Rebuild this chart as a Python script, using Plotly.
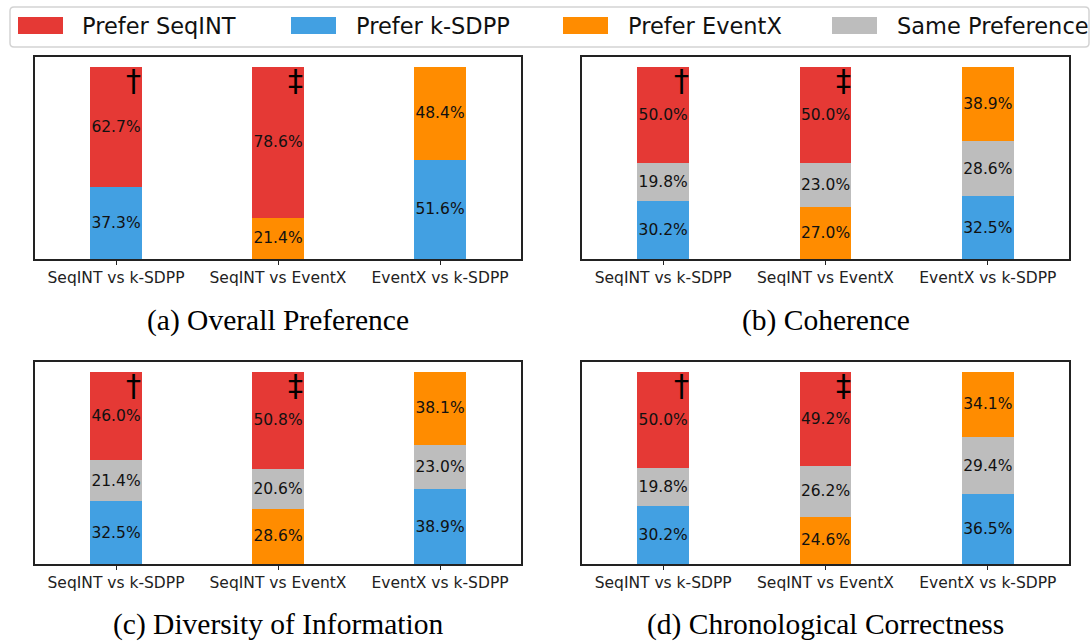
import plotly.graph_objects as go

# ---------------- data ----------------
categories = ["SeqINT vs k-SDPP", "SeqINT vs EventX", "EventX vs k-SDPP"]
first_system = ["SeqINT", "SeqINT", "EventX"]      # top segment of each bar
second_system = ["k-SDPP", "EventX", "k-SDPP"]     # bottom segment of each bar
significance_marks = ["\u2020", "\u2021", ""]

panel_titles = ["(a) Overall Preference", "(b) Coherence",
                "(c) Diversity of Information", "(d) Chronological Correctness"]

overall_first = [62.7, 78.6, 48.4]
overall_same = [None, None, None]
overall_second = [37.3, 21.4, 51.6]

coherence_first = [50.0, 50.0, 38.9]
coherence_same = [19.8, 23.0, 28.6]
coherence_second = [30.2, 27.0, 32.5]

diversity_first = [46.0, 50.8, 38.1]
diversity_same = [21.4, 20.6, 23.0]
diversity_second = [32.5, 28.6, 38.9]

chrono_first = [50.0, 49.2, 34.1]
chrono_same = [19.8, 26.2, 29.4]
chrono_second = [30.2, 24.6, 36.5]

legend_labels = ["Prefer SeqINT", "Prefer k-SDPP", "Prefer EventX", "Same Preference"]

# ---------------- style ----------------
W, H = 1092, 642
colors = {"SeqINT": "#E53935", "k-SDPP": "#42A0E2", "EventX": "#FF8C00", "Same": "#BDBDBD"}
legend_keys = ["SeqINT", "k-SDPP", "EventX", "Same"]
SANS = "DejaVu Sans"
SERIF = "Liberation Serif"


def px(x):
    return x / W


def py(y):
    return 1 - y / H


panels = [
    (overall_first, overall_same, overall_second),
    (coherence_first, coherence_same, coherence_second),
    (diversity_first, diversity_same, diversity_second),
    (chrono_first, chrono_same, chrono_second),
]
# pixel boxes of the four plot areas (x0, x1, ytop, ybottom)
boxes = [(35, 521, 57, 259), (582, 1069, 57, 259),
         (35, 521, 362, 564), (582, 1069, 362, 564)]
caption_y = [320, 320, 624, 624]

fig = go.Figure()
layout = {}
annotations = []
shapes = []

for k, ((first, same, second), (x0, x1, yt, yb)) in enumerate(zip(panels, boxes), start=1):
    xa = "x" if k == 1 else f"x{k}"
    ya = "y" if k == 1 else f"y{k}"
    layers = [
        (second, [colors[s] for s in second_system]),
        (same, [colors["Same"]] * 3),
        (first, [colors[s] for s in first_system]),
    ]
    for vals, cols in layers:
        if all(v is None for v in vals):
            continue
        fig.add_trace(go.Bar(
            x=categories, y=vals, width=0.32,
            marker=dict(color=cols, line=dict(width=0)),
            text=[f"{v:.1f}%" if v is not None else "" for v in vals],
            textposition="inside", insidetextanchor="middle",
            constraintext="none", textangle=0,
            textfont=dict(family=SANS, size=15.5, color="#111"),
            xaxis=xa, yaxis=ya, showlegend=False, hoverinfo="skip",
        ))
    axis_line = dict(showline=True, mirror=True, linecolor="#222", linewidth=1.5,
                     showgrid=False, zeroline=False)
    layout[f"xaxis{'' if k == 1 else k}"] = dict(
        domain=[px(x0), px(x1)], anchor=ya, type="category",
        range=[-0.5, 2.5], ticks="outside", ticklen=4, tickwidth=1, tickcolor="#222",
        tickfont=dict(family=SANS, size=15.5, color="#222"), **axis_line)
    layout[f"yaxis{'' if k == 1 else k}"] = dict(
        domain=[py(yb), py(yt)], anchor=xa, range=[0, 105],
        ticks="", showticklabels=False, **axis_line)
    for i, mark in enumerate(significance_marks):
        if mark:
            annotations.append(dict(
                x=i + 0.11, y=93.0, xref=xa, yref=ya, text=mark, showarrow=False,
                xanchor="center", yanchor="middle",
                font=dict(family=SANS, size=30, color="black")))
    annotations.append(dict(
        x=px((x0 + x1) / 2), y=py(caption_y[k - 1]), xref="paper", yref="paper",
        text=panel_titles[k - 1], showarrow=False, xanchor="center", yanchor="middle",
        font=dict(family=SERIF, size=29.5, color="black")))

# ---------------- custom legend ----------------
lx0, lx1, ly0, ly1, r = 10, 1089, 7, 47, 4
path = (f"M {px(lx0 + r)},{py(ly0)} L {px(lx1 - r)},{py(ly0)} "
        f"Q {px(lx1)},{py(ly0)} {px(lx1)},{py(ly0 + r)} "
        f"L {px(lx1)},{py(ly1 - r)} Q {px(lx1)},{py(ly1)} {px(lx1 - r)},{py(ly1)} "
        f"L {px(lx0 + r)},{py(ly1)} Q {px(lx0)},{py(ly1)} {px(lx0)},{py(ly1 - r)} "
        f"L {px(lx0)},{py(ly0 + r)} Q {px(lx0)},{py(ly0)} {px(lx0 + r)},{py(ly0)} Z")
shapes.append(dict(type="path", path=path, xref="paper", yref="paper",
                   line=dict(color="#D3D3D3", width=1.5), fillcolor="white", layer="below"))
patch_x = [18, 291, 563, 832]
text_x = [80, 354, 626, 895]
for key, label, pxl, tx in zip(legend_keys, legend_labels, patch_x, text_x):
    shapes.append(dict(type="rect", xref="paper", yref="paper",
                       x0=px(pxl), x1=px(pxl + 45), y0=py(34), y1=py(17),
                       fillcolor=colors[key], line=dict(width=0)))
    annotations.append(dict(x=px(tx), y=py(26), xref="paper", yref="paper",
                            text=label, showarrow=False, xanchor="left", yanchor="middle",
                            font=dict(family=SANS, size=22.5, color="#111")))

fig.update_layout(
    width=W, height=H, margin=dict(l=0, r=0, t=0, b=0),
    paper_bgcolor="white", plot_bgcolor="white",
    barmode="stack", showlegend=False,
    annotations=annotations, shapes=shapes, **layout,
)

fig.write_html(
    "out.html",
    config={"displayModeBar": False},
    post_script=("document.body.style.margin='0';document.body.style.padding='0';"
                 "document.documentElement.style.overflow='hidden';"),
)
